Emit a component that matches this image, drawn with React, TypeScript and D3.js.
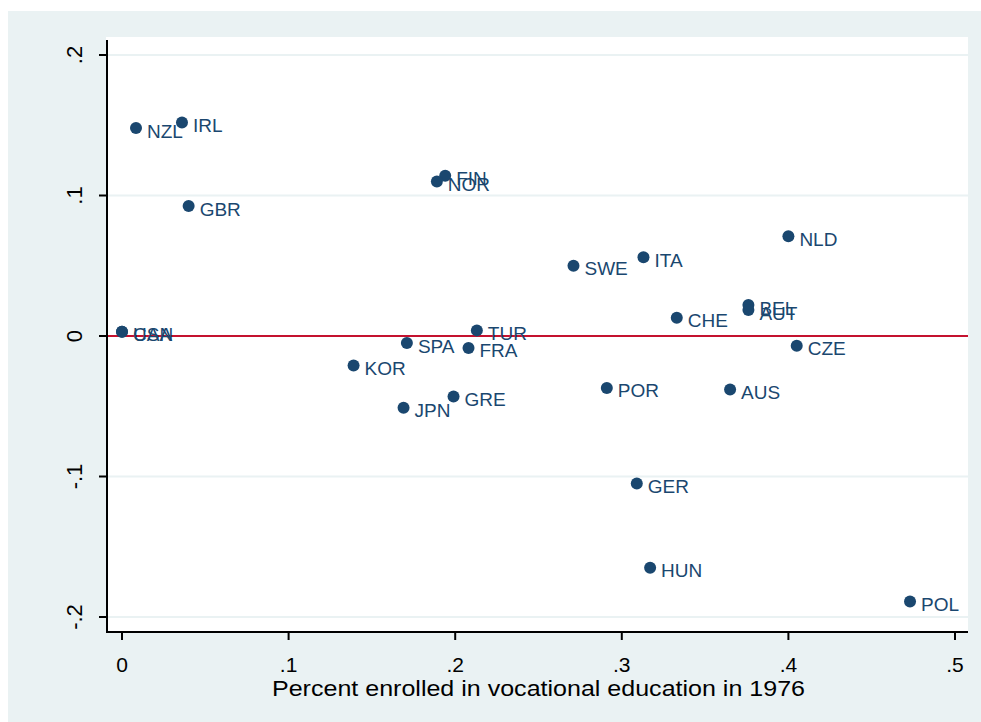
import React from "react";
import * as d3 from "d3";

const countries = ["USA", "CAN", "NZL", "IRL", "GBR", "FIN", "NOR", "SWE", "ITA", "NLD", "BEL", "AUT", "CHE", "CZE", "TUR", "SPA", "FRA", "KOR", "GRE", "JPN", "POR", "AUS", "GER", "HUN", "POL"];
const vocational = [0.0, 0.0, 0.0084, 0.036, 0.040, 0.194, 0.189, 0.271, 0.313, 0.400, 0.376, 0.376, 0.333, 0.405, 0.213, 0.171, 0.208, 0.139, 0.199, 0.169, 0.291, 0.365, 0.309, 0.317, 0.473];
const effect = [0.003, 0.003, 0.148, 0.152, 0.0925, 0.114, 0.110, 0.050, 0.056, 0.071, 0.022, 0.0185, 0.013, -0.007, 0.004, -0.005, -0.0085, -0.021, -0.043, -0.051, -0.037, -0.038, -0.105, -0.165, -0.189];
const xTicks = [0, 0.1, 0.2, 0.3, 0.4, 0.5];
const xTickLabels = ["0", ".1", ".2", ".3", ".4", ".5"];
const yTicks = [-0.2, -0.1, 0, 0.1, 0.2];
const yTickLabels = ["-.2", "-.1", "0", ".1", ".2"];
const xTitle = "Percent enrolled in vocational education in 1976";

const W = 981;
const H = 722;
const plot = { left: 106, right: 968, top: 37, bottom: 632 };
const navy = "#1A476F";
const bg = "#EAF2F3";
const font = "'Liberation Sans', Arial, sans-serif";

export default function App() {
  const x = d3.scaleLinear().domain([0, 0.5]).range([122, 955]);
  const y = d3.scaleLinear().domain([-0.2, 0.2]).range([617, 55]);
  const axisX = 107;

  return (
    <svg width={W} height={H} style={{ position: "absolute", left: 0, top: 0 }} fontFamily={font}>
      <rect x={0} y={0} width={W} height={H} fill="#ffffff" />
      <rect x={8} y={11} width={W - 8} height={H - 11} fill={bg} />
      <rect x={plot.left} y={plot.top} width={plot.right - plot.left} height={plot.bottom - plot.top} fill="#ffffff" />
      {/* gridlines */}
      {yTicks.map((t, i) => (
        <line key={"g" + i} x1={axisX} x2={plot.right} y1={y(t)} y2={y(t)} stroke={bg} strokeWidth={2} />
      ))}
      {/* zero reference line */}
      <line x1={axisX} x2={plot.right} y1={y(0)} y2={y(0)} stroke="#C4122F" strokeWidth={2} />
      {/* axes */}
      <line x1={axisX} x2={axisX} y1={40} y2={plot.bottom + 1} stroke="#000" strokeWidth={2} />
      <line x1={axisX - 1} x2={plot.right} y1={plot.bottom} y2={plot.bottom} stroke="#000" strokeWidth={2} />
      {yTicks.map((t, i) => (
        <g key={"yt" + i}>
          <line x1={axisX - 8} x2={axisX} y1={y(t)} y2={y(t)} stroke="#000" strokeWidth={2} />
          <text
            transform={`translate(82,${y(t)}) rotate(-90)`}
            textAnchor="middle"
            fontSize={22}
            fill="#000"
          >
            {yTickLabels[i]}
          </text>
        </g>
      ))}
      {xTicks.map((t, i) => (
        <g key={"xt" + i}>
          <line x1={x(t)} x2={x(t)} y1={plot.bottom} y2={plot.bottom + 8} stroke="#000" strokeWidth={2} />
          <text x={x(t)} y={672} textAnchor="middle" fontSize={21} fill="#000">
            {xTickLabels[i]}
          </text>
        </g>
      ))}
      <text
        x={(x(0) + x(0.5)) / 2}
        y={696}
        textAnchor="middle"
        fontSize={22}
        fill="#000"
        textLength={533}
        lengthAdjust="spacingAndGlyphs"
      >
        {xTitle}
      </text>
      {/* points */}
      {countries.map((c, i) => (
        <g key={c}>
          <circle cx={x(vocational[i])} cy={y(effect[i])} r={6} fill={navy} />
          <text x={x(vocational[i]) + 11} y={y(effect[i]) + 9.5} fontSize={19} fill={navy}>
            {c}
          </text>
        </g>
      ))}
    </svg>
  );
}
